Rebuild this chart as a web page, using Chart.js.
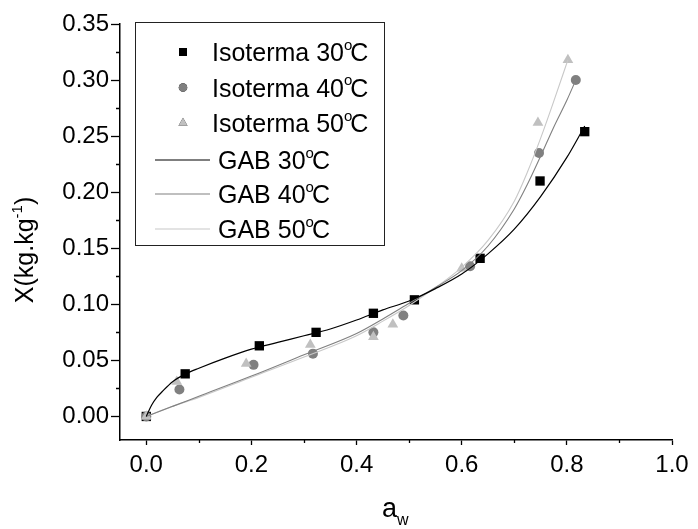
<!DOCTYPE html>
<html>
<head>
<meta charset="utf-8">
<style>
  body { margin: 0; background: #fff; }
  canvas { display: block; }
</style>
</head>
<body>
<canvas id="myChart" width="698" height="529"></canvas>

<script src="https://cdn.jsdelivr.net/npm/chart.js"></script>

<script>
    // measured points (a_w, X)
    const aw30 = [0, 0.074, 0.215, 0.323, 0.432, 0.510, 0.635, 0.749, 0.834];
    const x30 = [0, 0.038, 0.063, 0.075, 0.092, 0.104, 0.141, 0.210, 0.254];
    const aw40 = [0, 0.063, 0.204, 0.317, 0.432, 0.489, 0.616, 0.747, 0.817];
    const x40 = [0, 0.024, 0.046, 0.056, 0.075, 0.090, 0.134, 0.235, 0.300];
    const aw50 = [0, 0.058, 0.190, 0.312, 0.432, 0.469, 0.600, 0.745, 0.802];
    const x50 = [0, 0.031, 0.047, 0.064, 0.071, 0.082, 0.132, 0.262, 0.318];

    // GAB fitted curves
    const gabAw30 = [0, 0.01, 0.02, 0.03, 0.05, 0.075, 0.1, 0.15, 0.2, 0.25, 0.3, 0.35, 0.4, 0.45, 0.5, 0.55, 0.6, 0.65, 0.7, 0.75, 0.8, 0.834];
    const gab30 = [0, 0.010, 0.017, 0.022, 0.031, 0.038, 0.043, 0.052, 0.060, 0.066, 0.072, 0.078, 0.086, 0.095, 0.103, 0.114, 0.127, 0.145, 0.167, 0.196, 0.231, 0.259];
    const gabAw40 = [0, 0.05, 0.1, 0.2, 0.3, 0.4, 0.45, 0.5, 0.55, 0.6, 0.65, 0.7, 0.725, 0.75, 0.775, 0.8, 0.817];
    const gab40 = [0, 0.009, 0.018, 0.036, 0.055, 0.074, 0.087, 0.101, 0.115, 0.130, 0.152, 0.185, 0.207, 0.232, 0.258, 0.282, 0.300];
    const gabAw50 = [0, 0.05, 0.1, 0.2, 0.3, 0.4, 0.45, 0.5, 0.55, 0.6, 0.65, 0.7, 0.725, 0.75, 0.775, 0.802];
    const gab50 = [0, 0.009, 0.017, 0.035, 0.053, 0.072, 0.085, 0.099, 0.115, 0.133, 0.157, 0.192, 0.218, 0.248, 0.281, 0.318];

    const xMajor = [0, 0.2, 0.4, 0.6, 0.8, 1.0];
    const xMinor = [0.1, 0.3, 0.5, 0.7, 0.9];
    const yMajor = [0, 0.05, 0.10, 0.15, 0.20, 0.25, 0.30, 0.35];
    const yMinor = [0.025, 0.075, 0.125, 0.175, 0.225, 0.275, 0.325];

    const legendLabels = ['Isoterma 30', 'Isoterma 40', 'Isoterma 50', 'GAB 30', 'GAB 40', 'GAB 50'];

    const FONT = "'Liberation Sans', Arial, sans-serif";

    function pts(xs, ys) {
        return xs.map((v, i) => ({ x: v, y: ys[i] }));
    }

    // text with superscript / subscript parts, alphabetic baseline
    function richWidth(ctx, parts, size) {
        let w = 0;
        parts.forEach(p => {
            ctx.font = (p.sup || p.sub ? Math.round(size * 0.6) : size) + 'px ' + FONT;
            w += ctx.measureText(p.t).width;
        });
        return w;
    }
    function drawRich(ctx, parts, x, y, size) {
        parts.forEach(p => {
            ctx.font = (p.sup || p.sub ? Math.round(size * 0.6) : size) + 'px ' + FONT;
            let dy = p.sup ? -size * 0.45 : (p.sub ? size * 0.3 : 0);
            ctx.fillText(p.t, x, y + dy);
            x += ctx.measureText(p.t).width + (p.kern || 0);
        });
    }

    const extras = {
        id: 'extras',
        afterDraw(chart) {
            const ctx = chart.ctx;
            const xs = chart.scales.x, ys = chart.scales.y;
            const area = chart.chartArea;
            ctx.save();
            ctx.strokeStyle = '#000';
            ctx.lineWidth = 1.3;
            // minor ticks
            ctx.beginPath();
            xMinor.forEach(v => {
                const px = Math.round(xs.getPixelForValue(v)) + 0.5;
                ctx.moveTo(px, area.bottom);
                ctx.lineTo(px, area.bottom + 3);
            });
            yMinor.forEach(v => {
                const py = Math.round(ys.getPixelForValue(v)) + 0.5;
                ctx.moveTo(area.left, py);
                ctx.lineTo(area.left - 4, py);
            });
            ctx.stroke();

            ctx.fillStyle = '#000';
            ctx.textBaseline = 'alphabetic';
            ctx.textAlign = 'left';

            // y title
            const yParts = [{ t: 'X(kg.kg' }, { t: '-1', sup: true }, { t: ')' }];
            const yw = richWidth(ctx, yParts, 25);
            ctx.save();
            ctx.translate(33, 250);
            ctx.rotate(-Math.PI / 2);
            drawRich(ctx, yParts, -yw / 2, 0, 25);
            ctx.restore();

            // x title
            drawRich(ctx, [{ t: 'a' }, { t: 'w', sub: true }], 382, 517, 27);

            // legend box
            ctx.lineWidth = 1;
            ctx.strokeStyle = '#222';
            ctx.strokeRect(135.5, 22.5, 249, 223);
            const rowY = [52, 87.5, 123, 160, 194, 229];
            chart.data.datasets.forEach((ds, i) => {
                const cy = rowY[i];
                ctx.save();
                if (ds.showLine === false) {
                    Chart.helpers.drawPoint(ctx, {
                        pointStyle: ds.pointStyle,
                        radius: ds.pointRadius * 0.85,
                        borderWidth: 0
                    }, 183, cy);
                    ctx.fillStyle = ds.backgroundColor;
                    ctx.fill();
                } else {
                    ctx.strokeStyle = ds.borderColor;
                    ctx.lineWidth = ds.borderWidth;
                    ctx.beginPath();
                    ctx.moveTo(155, cy);
                    ctx.lineTo(210, cy);
                    ctx.stroke();
                }
                ctx.restore();
                ctx.fillStyle = '#000';
                const tx = ds.showLine === false ? 212 : 218;
                drawRich(ctx, [{ t: legendLabels[i] }, { t: 'o', sup: true, kern: -2 }, { t: 'C' }], tx, cy + 9, 25);
            });
            ctx.restore();
        }
    };

    const ctx = document.getElementById('myChart');

    new Chart(ctx, {
        type: 'scatter',
        data: {
            datasets: [
                { data: pts(aw30, x30), order: 3, showLine: false, pointStyle: 'rect', pointRadius: 6.6, backgroundColor: '#000', borderWidth: 0 },
                { data: pts(aw40, x40), order: 2, showLine: false, pointStyle: 'circle', pointRadius: 5, backgroundColor: '#808080', borderWidth: 0 },
                { data: pts(aw50, x50), order: 1, showLine: false, pointStyle: 'triangle', pointRadius: 6.2, backgroundColor: '#c0c0c0', borderWidth: 0 },
                { data: pts(gabAw30, gab30), order: 0, showLine: true, pointRadius: 0, borderColor: '#000', borderWidth: 1.2, cubicInterpolationMode: 'monotone' },
                { data: pts(gabAw40, gab40), order: 0, showLine: true, pointRadius: 0, borderColor: '#808080', borderWidth: 1.1, cubicInterpolationMode: 'monotone' },
                { data: pts(gabAw50, gab50), order: 0, showLine: true, pointRadius: 0, borderColor: '#c8c8c8', borderWidth: 1.1, cubicInterpolationMode: 'monotone' }
            ]
        },
        options: {
            responsive: false,
            animation: false,
            layout: { padding: { left: 0, top: 24, right: 26, bottom: 0 } },
            plugins: { legend: { display: false }, tooltip: { enabled: false } },
            scales: {
                x: {
                    type: 'linear',
                    min: -0.05,
                    max: 1.0,
                    afterBuildTicks: s => { s.ticks = xMajor.map(v => ({ value: v })); },
                    afterFit: s => { s.height = 89; },
                    border: { display: true, color: '#000', width: 1.5 },
                    grid: { drawOnChartArea: false, drawTicks: true, tickLength: 5, color: '#000', tickWidth: 1.3 },
                    ticks: {
                        padding: 6,
                        color: '#000',
                        font: { family: FONT, size: 24 },
                        callback: v => v.toFixed(1)
                    }
                },
                y: {
                    type: 'linear',
                    min: -0.021,
                    max: 0.35,
                    afterBuildTicks: s => { s.ticks = yMajor.map(v => ({ value: v })); },
                    afterFit: s => { s.width = 120; },
                    border: { display: true, color: '#000', width: 1.5 },
                    grid: { drawOnChartArea: false, drawTicks: true, tickLength: 9, color: '#000', tickWidth: 1.3 },
                    ticks: {
                        padding: 2,
                        color: '#000',
                        font: { family: FONT, size: 24 },
                        callback: v => v.toFixed(2)
                    }
                }
            }
        },
        plugins: [extras]
    });
</script>
</body>
</html>
